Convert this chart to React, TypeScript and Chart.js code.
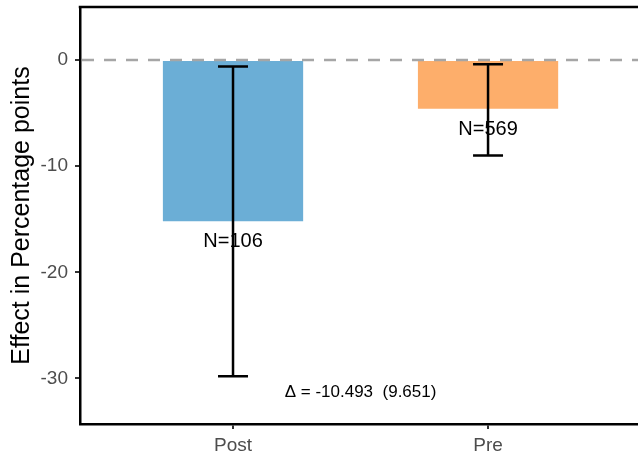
import React, { useEffect, useRef } from "react";
import { Chart, registerables } from "chart.js";

Chart.register(...registerables);

const categories = ["Post", "Pre"];
const effects = [-15.2, -4.6];
const ciLow = [-29.8, -9.0];
const ciHigh = [-0.6, -0.4];
const nLabels = ["N=106", "N=569"];
const barColors = ["#6BAED6", "#FDAE6B"];
const yTicks = [-30, -20, -10, 0];
const deltaText = "\u0394 = -10.493  (9.651)";
const deltaPos = { x: 0.5, y: -31.3 };
const labelOffset = -1.9;

const FONT = "'Liberation Sans', Arial, sans-serif";

const overlay = {
  id: "overlay",
  afterDatasetsDraw(chart: any) {
    const { ctx, chartArea, scales } = chart;
    const xs = scales.x;
    const ys = scales.y;
    ctx.save();
    // top border
    ctx.strokeStyle = "#000";
    ctx.lineWidth = 2.5;
    ctx.beginPath();
    ctx.moveTo(chartArea.left - 1.25, chartArea.top);
    ctx.lineTo(chartArea.right, chartArea.top);
    ctx.stroke();
    // dashed zero line
    const y0 = ys.getPixelForValue(0);
    ctx.strokeStyle = "#A6A6A6";
    ctx.lineWidth = 2.5;
    ctx.setLineDash([12, 10]);
    ctx.beginPath();
    ctx.moveTo(chartArea.left + 2, y0);
    ctx.lineTo(chartArea.right, y0);
    ctx.stroke();
    ctx.setLineDash([]);
    // labels
    ctx.fillStyle = "#000";
    ctx.font = `20px ${FONT}`;
    ctx.textAlign = "center";
    ctx.textBaseline = "middle";
    categories.forEach((_, i) => {
      const px = xs.getPixelForValue(i);
      ctx.fillText(nLabels[i], px, ys.getPixelForValue(effects[i] + labelOffset));
    });
    // error bars
    ctx.strokeStyle = "#000";
    ctx.lineWidth = 2.5;
    categories.forEach((_, i) => {
      const px = xs.getPixelForValue(i);
      const yl = ys.getPixelForValue(ciLow[i]);
      const yh = ys.getPixelForValue(ciHigh[i]);
      ctx.beginPath();
      ctx.moveTo(px, yl);
      ctx.lineTo(px, yh);
      ctx.moveTo(px - 15, yl);
      ctx.lineTo(px + 15, yl);
      ctx.moveTo(px - 15, yh);
      ctx.lineTo(px + 15, yh);
      ctx.stroke();
    });
    // delta annotation
    ctx.font = `17px ${FONT}`;
    ctx.fillText(deltaText, xs.getPixelForValue(deltaPos.x), ys.getPixelForValue(deltaPos.y));
    ctx.restore();
  },
};

export default function App() {
  const ref = useRef<HTMLCanvasElement>(null);
  useEffect(() => {
    if (!ref.current) return;
    const chart = new Chart(ref.current, {
      type: "bar",
      data: {
        datasets: [
          {
            data: effects.map((v, i) => ({ x: i, y: v })),
            backgroundColor: barColors,
            borderWidth: 0,
            categoryPercentage: 1,
            barPercentage: 0.55,
          },
        ],
      },
      options: {
        responsive: false,
        animation: false,
        layout: { padding: { top: 7, left: 0, right: 0, bottom: 0 } },
        plugins: { legend: { display: false }, tooltip: { enabled: false } },
        scales: {
          x: {
            type: "linear",
            offset: false,
            min: -0.6,
            max: 1.588,
            afterBuildTicks: (s: any) => {
              s.ticks = categories.map((_, i) => ({ value: i }));
            },
            afterFit: (s: any) => {
              s.height = 30;
              s.paddingLeft = 0;
              s.paddingRight = 0;
            },
            ticks: {
              callback: (v: any) => categories[v] ?? "",
              color: "#4D4D4D",
              font: { family: FONT, size: 19 },
              padding: 5,
              maxRotation: 0,
              autoSkip: false,
            },
            grid: { offset: false, drawOnChartArea: false, drawTicks: true, tickLength: 5, color: "#333", lineWidth: 2 },
            border: { display: true, color: "#000", width: 2.5 },
          },
          y: {
            type: "linear",
            min: -34.3,
            max: 5.0,
            afterBuildTicks: (s: any) => {
              s.ticks = yTicks.map((v) => ({ value: v }));
            },
            afterFit: (s: any) => {
              s.width = 80;
              s.paddingTop = 0;
              s.paddingBottom = 0;
            },
            ticks: {
              color: "#4D4D4D",
              font: { family: FONT, size: 19 },
              padding: 7,
            },
            grid: { drawOnChartArea: false, drawTicks: true, tickLength: 5, color: "#333", lineWidth: 2 },
            border: { display: true, color: "#000", width: 2.5 },
            title: {
              display: true,
              text: "Effect in Percentage points",
              color: "#000",
              font: { family: FONT, size: 25, lineHeight: 1.2 },
              padding: { top: 7, bottom: 0 },
            },
          },
        },
      },
      plugins: [overlay],
    } as any);
    return () => chart.destroy();
  }, []);
  return (
    <div style={{ position: "fixed", left: 0, top: 0, width: 638, height: 454, background: "#fff" }}>
      <canvas ref={ref} width={638} height={454} />
    </div>
  );
}
